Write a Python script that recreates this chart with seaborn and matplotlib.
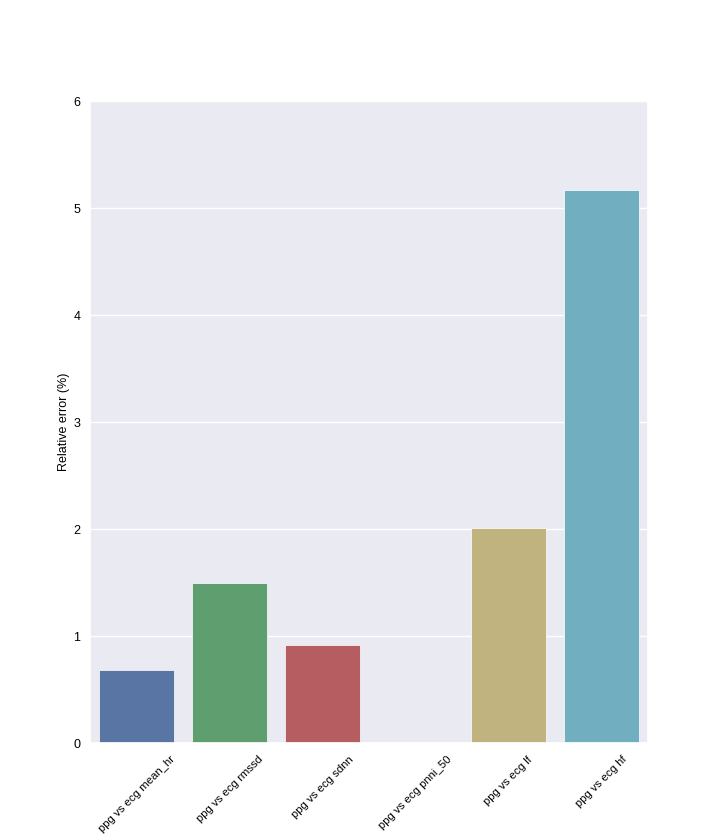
import matplotlib
matplotlib.use("Agg")
import matplotlib.pyplot as plt
import pandas as pd
import seaborn as sns

# comparison labels and relative errors
comparisons = [
    "ppg vs ecg mean_hr",
    "ppg vs ecg rmssd",
    "ppg vs ecg sdnn",
    "ppg vs ecg pnni_50",
    "ppg vs ecg lf",
    "ppg vs ecg hf",
]
rel_error = [0.68, 1.50, 0.92, 0.0, 2.01, 5.17]

df = pd.DataFrame({"comparison": comparisons, "error": rel_error})

sns.set_theme(style="darkgrid", palette="deep6")
plt.rcParams["font.family"] = ["Liberation Sans", "DejaVu Sans"]
plt.rcParams["xtick.labelsize"] = 8.2
plt.rcParams["ytick.labelsize"] = 9
plt.rcParams["axes.labelsize"] = 9
plt.rcParams["xtick.color"] = "black"
plt.rcParams["ytick.color"] = "black"
plt.rcParams["axes.labelcolor"] = "black"
plt.rcParams["xtick.major.pad"] = 2
plt.rcParams["ytick.major.pad"] = 1

fig, ax = plt.subplots(figsize=(7.2, 8.36), dpi=100)
fig.subplots_adjust(left=0.125, right=0.9, top=0.879, bottom=0.111)

sns.barplot(data=df, x="comparison", y="error", hue="comparison",
            palette="deep6", legend=False, linewidth=0.5, ax=ax)

ax.set_ylim(0, 6)
ax.set_xlabel("")
ax.set_ylabel("Relative error (%)", labelpad=2)
plt.xticks(rotation=45)

plt.savefig("out.png", dpi=100)
